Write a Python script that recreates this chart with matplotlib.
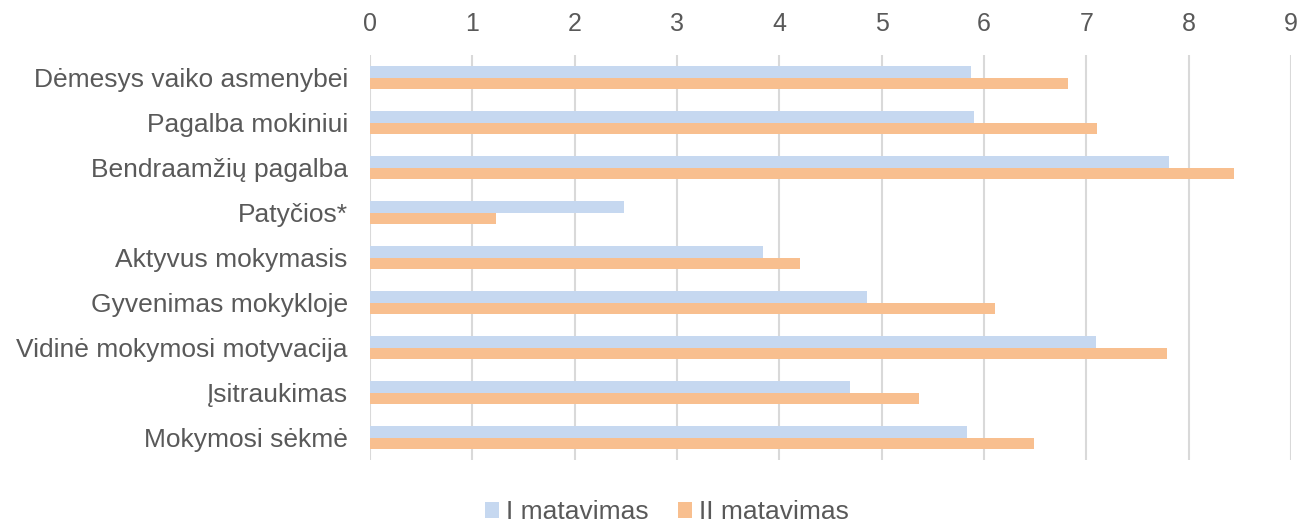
import numpy as np
import matplotlib.pyplot as plt

plt.rcParams['font.family'] = ['Liberation Sans', 'DejaVu Sans']

categories = [
    "Dėmesys vaiko asmenybei",
    "Pagalba mokiniui",
    "Bendraamžių pagalba",
    "Patyčios*",
    "Aktyvus mokymasis",
    "Gyvenimas mokykloje",
    "Vidinė mokymosi motyvacija",
    "Įsitraukimas",
    "Mokymosi sėkmė",
]
matavimas_1 = [5.87, 5.90, 7.81, 2.48, 3.84, 4.86, 7.09, 4.69, 5.83]
matavimas_2 = [6.82, 7.10, 8.44, 1.23, 4.20, 6.11, 7.79, 5.36, 6.49]
series_names = ["I matavimas", "II matavimas"]

text_color = "#595959"
grid_color = "#D9D9D9"

fig = plt.figure(figsize=(13.02, 5.22), dpi=100)
ax = fig.add_axes([370 / 1302, 62 / 522, 921 / 1302, 405 / 522])

y = np.arange(len(categories))
h = 0.26
ax.barh(y - h / 2, matavimas_1, height=h, color="#C6D8F0", label=series_names[0], zorder=3)
ax.barh(y + h / 2, matavimas_2, height=h, color="#F8BF8F", label=series_names[1], zorder=3)

ax.set_xlim(0, 9)
ax.set_ylim(len(categories) - 0.5, -0.5)
ax.set_xticks(range(10))
ax.set_yticks(y)
ax.set_yticklabels(categories)
ax.xaxis.tick_top()
ax.tick_params(axis="x", length=0, pad=14, labelsize=18, colors=text_color)
ax.tick_params(axis="y", length=0, pad=16, labelsize=19, colors=text_color)
ax.grid(axis="x", color=grid_color, linewidth=1.5, zorder=0)
for s in ax.spines.values():
    s.set_visible(False)

fig.legend(loc="lower center", bbox_to_anchor=(0.512, -0.05), ncol=2, frameon=False,
           fontsize=19, labelcolor=text_color, handlelength=0.55, handleheight=0.55,
           handletextpad=0.25, columnspacing=1.1)

fig.savefig("out.png", dpi=100)
